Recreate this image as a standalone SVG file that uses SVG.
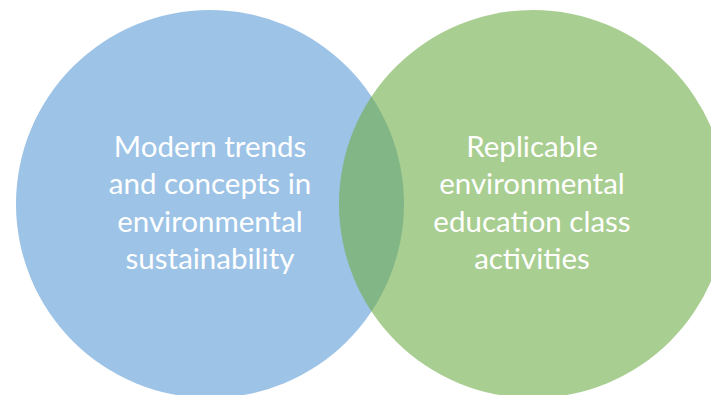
<svg xmlns="http://www.w3.org/2000/svg" width="711" height="395" viewBox="0 0 711 395">
  <style>
    .set { stroke: none; opacity: 0.6; }
    .label { font-family: Lato, "Open Sans", "Liberation Sans", sans-serif; font-size: 29.5px; fill: #ffffff; text-anchor: middle; }
  </style>
  <rect width="711" height="395" fill="#ffffff"/>
  <g id="set-sustainability">
    <circle class="set" cx="210" cy="204" r="194" fill="#5B9BD5"/>
  </g>
  <g id="set-activities">
    <circle class="set" cx="533" cy="204" r="194" fill="#70AD47"/>
  </g>
  <g id="label-sustainability">
    <text class="label" x="210" y="157">Modern trends</text>
    <text class="label" x="210" y="194">and concepts in</text>
    <text class="label" x="210" y="232">environmental</text>
    <text class="label" x="210" y="269">sustainability</text>
  </g>
  <g id="label-activities">
    <text class="label" x="532" y="157">Replicable</text>
    <text class="label" x="532" y="194">environmental</text>
    <text class="label" x="532" y="232">education class</text>
    <text class="label" x="532" y="269">activities</text>
  </g>
</svg>
